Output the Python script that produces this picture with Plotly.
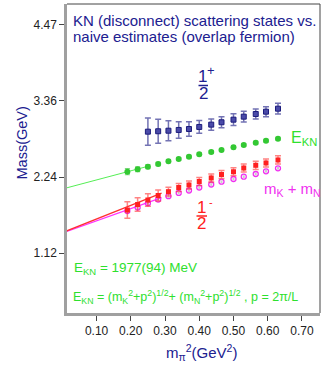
import plotly.graph_objects as go

# pion mass squared (GeV^2)
mpi2 = [0.19, 0.22, 0.25, 0.28, 0.31, 0.34, 0.37, 0.40, 0.435, 0.465, 0.50, 0.53, 0.565, 0.595, 0.63]

# E_KN estimate (green)
e_kn = [2.314, 2.349, 2.387, 2.427, 2.467, 2.500, 2.534, 2.569, 2.603, 2.632, 2.672, 2.706, 2.739, 2.769, 2.798]
e_kn_err = [0.045, 0.035, 0.03, 0.025, 0.02, 0.02, 0.02, 0.02, 0.02, 0.02, 0.02, 0.02, 0.02, 0.02, 0.02]

# 1/2+ state (blue), starts at third mpi2 value
pos_x = mpi2[2:]
pos_mass = [2.901, 2.907, 2.915, 2.926, 2.940, 2.970, 3.004, 3.039, 3.077, 3.121, 3.160, 3.194, 3.238]
pos_err = [0.20, 0.176, 0.147, 0.12, 0.105, 0.093, 0.083, 0.08, 0.085, 0.078, 0.075, 0.073, 0.078]

# 1/2- state (red)
neg_mass = [1.752, 1.833, 1.899, 1.965, 2.021, 2.082, 2.119, 2.170, 2.222, 2.273, 2.313, 2.368, 2.408, 2.442, 2.486]
neg_err = [0.12, 0.10, 0.09, 0.08, 0.065, 0.06, 0.06, 0.06, 0.06, 0.06, 0.06, 0.06, 0.06, 0.06, 0.06]

# m_K + m_N (magenta)
mkmn = [1.738, 1.789, 1.851, 1.906, 1.955, 2.002, 2.038, 2.082, 2.126, 2.167, 2.207, 2.241, 2.280, 2.320, 2.364]
mkmn_err = [0.035, 0.03, 0.03, 0.025, 0.025, 0.02, 0.02, 0.02, 0.02, 0.02, 0.02, 0.02, 0.02, 0.02, 0.02]

# chiral extrapolation lines
ekn_fit_x = [0.0, 0.25]
ekn_fit_y = [2.06, 2.393]
neg_fit_x = [0.0, 0.29]
neg_fit_y = [1.42, 2.0]
mkmn_fit_x = [0.0, 0.29]
mkmn_fit_y = [1.415, 1.935]

ytick_vals = [1.1175, 2.235, 3.3525, 4.47]
ytick_text = ["1.12", "2.24", "3.36", "4.47"]
xtick_vals = [0.1, 0.2, 0.3, 0.4, 0.5, 0.6, 0.7]

NAVY = "#202090"
GREEN = "#2ee02e"
RED = "#ff2020"
MAG = "#f030f0"
FONT = "Liberation Sans, Arial, sans-serif"

fig = go.Figure()

fig.add_trace(go.Scatter(x=ekn_fit_x, y=ekn_fit_y, mode="lines",
                         line=dict(color="#55ee55", width=1)))
fig.add_trace(go.Scatter(x=mkmn_fit_x, y=mkmn_fit_y, mode="lines",
                         line=dict(color="#ff30ff", width=1.3)))
fig.add_trace(go.Scatter(x=neg_fit_x, y=neg_fit_y, mode="lines",
                         line=dict(color="#ff3030", width=1.3)))

fig.add_trace(go.Scatter(x=mpi2, y=e_kn, mode="markers",
                         error_y=dict(array=e_kn_err, color="rgba(40,190,40,0.6)", thickness=1.2, width=2.5),
                         marker=dict(symbol="circle", size=6, color="#33c833")))
fig.add_trace(go.Scatter(x=pos_x, y=pos_mass, mode="markers",
                         error_y=dict(array=pos_err, color="rgba(40,40,140,0.65)", thickness=1.5, width=3),
                         marker=dict(symbol="square", size=5, color="#4a4aa8",
                                     line=dict(color="#1c1c7c", width=1))))
fig.add_trace(go.Scatter(x=mpi2, y=mkmn, mode="markers",
                         error_y=dict(array=mkmn_err, color="rgba(170,170,170,0.6)", thickness=2, width=0),
                         marker=dict(symbol="circle-open", size=5, color=MAG, line=dict(width=1.3))))
fig.add_trace(go.Scatter(x=mpi2, y=neg_mass, mode="markers",
                         error_y=dict(array=neg_err, color="rgba(255,50,50,0.6)", thickness=1.5, width=3),
                         marker=dict(symbol="square", size=5, color=RED)))


def px_x(p):
    return (p - 67) / 253


def px_y(p):
    return (313 - p) / 309


def label(text, x, y, color, size, xanchor="left", **kw):
    fig.add_annotation(text=text, x=px_x(x), y=px_y(y), xref="paper", yref="paper",
                       xanchor=xanchor, yanchor="middle", showarrow=False,
                       font=dict(color=color, size=size, family=FONT), **kw)


label("KN (disconnect) scattering states vs.", 71, 20, NAVY, 15)
label("naive estimates (overlap fermion)", 71, 37, NAVY, 15)

# 1/2+
label("1", 202, 77, NAVY, 17, xanchor="center")
label("2", 203, 93, NAVY, 17, xanchor="center")
label("+", 210.5, 70, NAVY, 13, xanchor="center")
fig.add_shape(type="line", xref="paper", yref="paper", x0=px_x(198.5), x1=px_x(208),
              y0=px_y(85.5), y1=px_y(85.5), line=dict(color=NAVY, width=1.5))

# 1/2-
label("1", 201, 208, RED, 17, xanchor="center")
label("2", 201.5, 223, RED, 17, xanchor="center")
label("-", 211, 202, RED, 11, xanchor="center")
fig.add_shape(type="line", xref="paper", yref="paper", x0=px_x(196.5), x1=px_x(207),
              y0=px_y(216), y1=px_y(216), line=dict(color=RED, width=1.5))

label("E<sub>KN</sub>", 289, 138, GREEN, 16)
label("m<sub>K</sub> + m<sub>N</sub>", 262, 189, MAG, 15)
label("E<sub>KN</sub> = 1977(94) MeV", 72, 268, GREEN, 13.5)
label("E<sub>KN</sub> = (m<sub>K</sub><sup>2</sup>+p<sup>2</sup>)<sup>1/2</sup>+ "
      "(m<sub>N</sub><sup>2</sup>+p<sup>2</sup>)<sup>1/2</sup> , p = 2π/L", 71, 297, GREEN, 12.5)

# axis titles
label("Mass(GeV)", 21.5, 143, NAVY, 14.5, xanchor="center", textangle=-90)
label("m<sub>π</sub><sup>2</sup>(GeV<sup>2</sup>)", 201, 352, NAVY, 15, xanchor="center")

# thin frame on top / right
fig.add_shape(type="line", xref="paper", yref="paper", x0=0, x1=1, y0=1, y1=1,
              line=dict(color="#444", width=1))
fig.add_shape(type="line", xref="paper", yref="paper", x0=1, x1=1, y0=0, y1=1,
              line=dict(color="#444", width=1))

fig.update_layout(
    width=327, height=382,
    margin=dict(l=67, r=7, t=4, b=69),
    plot_bgcolor="white", paper_bgcolor="white",
    showlegend=False,
    font=dict(family=FONT, size=12, color="#222"),
    xaxis=dict(range=[0.0137, 0.7527], tickvals=xtick_vals, tickformat=".2f",
               showgrid=False, zeroline=False, showline=True, linecolor="#a0a0a0", linewidth=2.5,
               ticks="outside", ticklen=5, tickcolor="#444", tickwidth=1),
    yaxis=dict(range=[0.242, 4.773], tickvals=ytick_vals, ticktext=ytick_text,
               showgrid=False, zeroline=False, showline=True, linecolor="#a0a0a0", linewidth=2.5,
               ticks="outside", ticklen=5, tickcolor="#444", tickwidth=1),
)

fig.write_html("out.html", config={"displayModeBar": False},
               post_script="document.body.style.margin='0';")
